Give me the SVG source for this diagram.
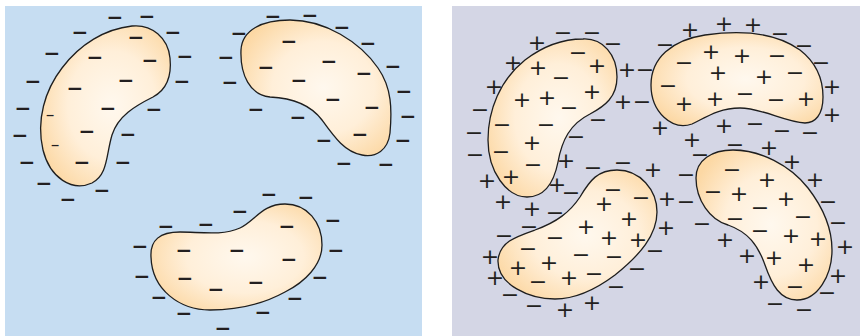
<svg xmlns="http://www.w3.org/2000/svg" width="860" height="336" viewBox="0 0 860 336">
  <defs>
    <radialGradient id="cellFill" cx="0.55" cy="0.5" r="0.62">
      <stop offset="0" stop-color="#fff8ee"/>
      <stop offset="0.55" stop-color="#ffefd9"/>
      <stop offset="1" stop-color="#fcd8a4"/>
    </radialGradient>
  </defs>
  <style>
    .cell { fill: url(#cellFill); stroke: #1e1e1e; stroke-width: 1.3; }
    .ion { font-family: "DejaVu Sans", sans-serif; fill: #231f20; text-anchor: middle; dominant-baseline: central; }
    .neg { font-size: 20px; font-weight: bold; }
    .sm { font-size: 11px; font-weight: bold; }
    .chg { font-size: 22px; }
  </style>

  <!-- Left panel: cells surrounded only by negative charges -->
  <rect id="panel-left" x="5" y="6" width="417" height="330" fill="#c6ddf2"/>
  <g id="left-cells">
    <g id="cell-a">
      <path class="cell" d="M132,26 C152,24 168,38 170,58 C172,78 166,90 153,97 C135,106 118,116 112,135 C106,155 108,175 92,183 C72,192 50,178 43,150 C36,120 45,90 62,68 C80,44 105,29 132,26 Z"/>
    </g>
    <g id="cell-b">
      <path class="cell" d="M241,50 C242,30 262,20 290,20 C325,20 360,42 378,68 C392,88 392,110 390,133 C388,150 376,158 362,155 C345,152 335,138 322,120 C310,104 292,98 270,97 C250,95 240,75 241,50 Z"/>
    </g>
    <g id="cell-c">
      <path class="cell" d="M151,257 C150,240 160,232 180,232 C200,232 222,236 240,228 C255,221 262,204 285,204 C307,204 322,222 322,245 C322,265 305,282 285,292 C265,303 240,310 210,310 C180,310 152,290 151,257 Z"/>
    </g>
  </g>
  <g id="left-charges" class="ion neg">
    <text x="115" y="17">−</text><text x="147" y="16">−</text><text x="80" y="32">−</text>
    <text x="173" y="32">−</text><text x="136" y="37">−</text><text x="52" y="53">−</text>
    <text x="95" y="57">−</text><text x="150" y="60">−</text><text x="185" y="56">−</text>
    <text x="33" y="81">−</text><text x="126" y="80">−</text><text x="75" y="88">−</text>
    <text x="182" y="81">−</text><text x="23" y="108">−</text><text x="108" y="108">−</text>
    <text x="154" y="109">−</text><text x="20" y="135">−</text><text x="87" y="131">−</text>
    <text x="128" y="134">−</text><text x="27" y="162">−</text><text x="82" y="162">−</text>
    <text x="123" y="162">−</text><text x="44" y="183">−</text><text x="102" y="190">−</text>
    <text x="68" y="199">−</text>
    <text class="sm" x="50" y="115">−</text><text class="sm" x="55" y="145">−</text>

    <text x="273" y="16">−</text><text x="310" y="15">−</text><text x="239" y="33">−</text>
    <text x="342" y="27">−</text><text x="289" y="41">−</text><text x="368" y="43">−</text>
    <text x="226" y="57">−</text><text x="266" y="67">−</text><text x="329" y="61">−</text>
    <text x="393" y="66">−</text><text x="364" y="73">−</text><text x="230" y="82">−</text>
    <text x="299" y="80">−</text><text x="404" y="91">−</text><text x="333" y="99">−</text>
    <text x="256" y="109">−</text><text x="372" y="107">−</text><text x="298" y="117">−</text>
    <text x="408" y="116">−</text><text x="360" y="134">−</text><text x="324" y="140">−</text>
    <text x="403" y="140">−</text><text x="344" y="163">−</text><text x="386" y="164">−</text>
    <text x="269" y="194">−</text><text x="306" y="197">−</text>

    <text x="240" y="211">−</text><text x="166" y="226">−</text><text x="206" y="224">−</text>
    <text x="287" y="226">−</text><text x="333" y="220">−</text><text x="140" y="246">−</text>
    <text x="184" y="250">−</text><text x="237" y="250">−</text><text x="336" y="250">−</text>
    <text x="289" y="259">−</text><text x="142" y="276">−</text><text x="185" y="278">−</text>
    <text x="320" y="277">−</text><text x="256" y="282">−</text><text x="216" y="289">−</text>
    <text x="159" y="297">−</text><text x="295" y="298">−</text><text x="184" y="313">−</text>
    <text x="263" y="312">−</text><text x="223" y="328">−</text>
  </g>

  <!-- Right panel: cells with mixed positive and negative charges -->
  <rect id="panel-right" x="452" y="6" width="408" height="330" fill="#d4d6e5"/>
  <g id="right-cells">
    <g id="cell-d">
      <path class="cell" d="M583,39 C603,38 617,55 617,77 C617,97 605,106 590,114 C570,124 562,140 558,162 C554,182 545,197 527,197 C507,197 488,172 488,140 C488,110 500,80 525,60 C542,47 562,39 583,39 Z"/>
    </g>
    <g id="cell-e">
      <path class="cell" d="M498,260 C500,242 515,237 535,230 C557,222 570,212 580,197 C590,180 598,170 617,170 C640,170 657,190 657,212 C657,235 640,255 615,275 C595,290 575,299 555,299 C530,299 497,285 498,260 Z"/>
    </g>
    <g id="cell-f">
      <path class="cell" d="M651,85 C651,58 672,40 705,35 C740,30 775,32 800,50 C818,64 823,82 823,97 C823,115 815,123 805,123 C785,122 762,108 740,108 C718,108 705,118 692,124 C672,131 651,112 651,85 Z"/>
    </g>
    <g id="cell-g">
      <path class="cell" d="M696,178 C696,160 712,150 733,150 C760,150 790,165 808,188 C825,210 832,230 832,250 C832,275 818,300 797,300 C780,300 772,285 765,265 C758,245 748,232 728,225 C710,220 696,200 696,178 Z"/>
    </g>
  </g>
  <g id="right-charges" class="ion chg">
    <text x="537" y="42">+</text><text x="563" y="32">−</text><text x="592" y="32">−</text>
    <text x="613" y="43">−</text><text x="513" y="62">+</text><text x="538" y="67">+</text>
    <text x="578" y="52">−</text><text x="597" y="65">+</text><text x="627" y="69">+</text>
    <text x="645" y="69">−</text><text x="494" y="86">+</text><text x="561" y="77">−</text>
    <text x="522" y="99">+</text><text x="547" y="97">+</text><text x="592" y="91">+</text>
    <text x="569" y="107">−</text><text x="623" y="101">+</text><text x="642" y="101">−</text>
    <text x="480" y="109">−</text><text x="598" y="119">−</text><text x="502" y="124">−</text>
    <text x="546" y="124">−</text><text x="474" y="132">−</text><text x="576" y="136">−</text>
    <text x="532" y="142">+</text><text x="501" y="151">−</text><text x="475" y="154">−</text>
    <text x="566" y="160">+</text><text x="533" y="164">−</text><text x="593" y="167">−</text>
    <text x="623" y="162">−</text><text x="511" y="176">+</text><text x="487" y="180">+</text>
    <text x="557" y="184">+</text><text x="571" y="192">−</text>

    <text x="653" y="169">+</text><text x="503" y="201">+</text><text x="532" y="208">+</text>
    <text x="555" y="212">−</text><text x="613" y="189">−</text><text x="641" y="197">−</text>
    <text x="667" y="198">+</text><text x="604" y="203">+</text><text x="629" y="218">+</text>
    <text x="529" y="226">−</text><text x="504" y="235">−</text><text x="555" y="237">−</text>
    <text x="586" y="226">+</text><text x="609" y="237">+</text><text x="638" y="239">+</text>
    <text x="666" y="227">+</text><text x="655" y="250">−</text><text x="528" y="248">−</text>
    <text x="490" y="256">+</text><text x="581" y="254">−</text><text x="614" y="256">−</text>
    <text x="549" y="262">+</text><text x="518" y="267">+</text><text x="495" y="277">+</text>
    <text x="538" y="281">−</text><text x="569" y="277">+</text><text x="594" y="273">−</text>
    <text x="637" y="268">−</text><text x="510" y="294">−</text><text x="616" y="286">−</text>
    <text x="534" y="305">−</text><text x="565" y="309">+</text><text x="592" y="302">+</text>

    <text x="690" y="29">+</text><text x="724" y="23">+</text><text x="753" y="24">+</text>
    <text x="780" y="33">−</text><text x="665" y="44">−</text><text x="804" y="45">−</text>
    <text x="711" y="51">+</text><text x="742" y="55">+</text><text x="777" y="55">−</text>
    <text x="684" y="62">−</text><text x="821" y="62">−</text><text x="718" y="72">+</text>
    <text x="764" y="76">+</text><text x="795" y="72">−</text><text x="832" y="86">+</text>
    <text x="668" y="85">−</text><text x="684" y="103">+</text><text x="715" y="98">+</text>
    <text x="745" y="93">−</text><text x="776" y="99">−</text><text x="806" y="98">+</text>
    <text x="832" y="114">+</text><text x="660" y="127">+</text><text x="724" y="125">+</text>
    <text x="755" y="123">−</text><text x="782" y="130">−</text><text x="810" y="132">−</text>
    <text x="692" y="139">+</text><text x="735" y="144">−</text><text x="769" y="147">+</text>
    <text x="700" y="154">−</text><text x="792" y="161">+</text>

    <text x="732" y="169">−</text><text x="767" y="179">+</text><text x="815" y="179">+</text>
    <text x="686" y="174">−</text><text x="713" y="191">−</text><text x="739" y="193">+</text>
    <text x="786" y="198">+</text><text x="828" y="201">−</text><text x="686" y="201">−</text>
    <text x="760" y="207">−</text><text x="735" y="218">−</text><text x="803" y="216">−</text>
    <text x="838" y="222">−</text><text x="702" y="223">−</text><text x="760" y="230">−</text>
    <text x="791" y="235">+</text><text x="818" y="238">+</text><text x="845" y="246">+</text>
    <text x="725" y="239">+</text><text x="747" y="255">+</text><text x="774" y="257">+</text>
    <text x="806" y="264">+</text><text x="838" y="275">+</text><text x="761" y="281">+</text>
    <text x="795" y="286">−</text><text x="827" y="292">−</text><text x="775" y="303">−</text>
    <text x="804" y="309">−</text>
  </g>
</svg>
